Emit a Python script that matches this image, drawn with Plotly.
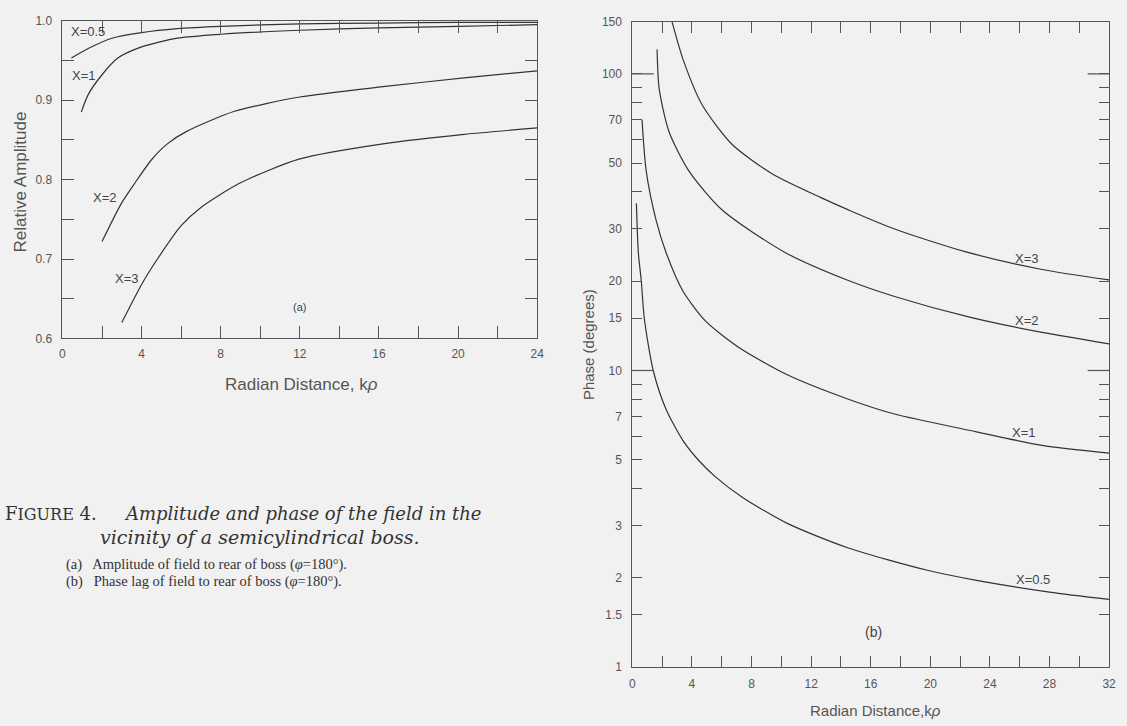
import math
import plotly.graph_objects as go

# ---------------- data ----------------
# (a) Relative amplitude vs radian distance
amp_x_05 = [0.45, 1.3, 2.5, 4, 5.8, 8, 12, 16, 20, 24]
amp_y_05 = [0.953, 0.965, 0.978, 0.985, 0.990, 0.993, 0.996, 0.997, 0.998, 0.998]
amp_x_1 = [0.95, 1.3, 2, 2.8, 4, 5.8, 8, 12, 16, 20, 24]
amp_y_1 = [0.885, 0.907, 0.932, 0.953, 0.967, 0.978, 0.983, 0.988, 0.991, 0.993, 0.995]
amp_x_2 = [2, 3, 3.67, 4.5, 5.3, 6.3, 8.7, 12, 16.2, 20.3, 24]
amp_y_2 = [0.722, 0.771, 0.796, 0.825, 0.845, 0.861, 0.886, 0.904, 0.917, 0.928, 0.937]
amp_x_3 = [3, 4, 4.8, 6, 7, 9, 12, 16.2, 20.3, 24]
amp_y_3 = [0.620, 0.668, 0.700, 0.742, 0.765, 0.796, 0.826, 0.845, 0.857, 0.865]

# (b) Phase (degrees) vs radian distance
ph_x_05 = [0.27, 0.4, 0.6, 0.8, 1.4, 2.26, 3.4, 4.46, 5.6, 7.4, 10.4, 14.5, 19.8, 23.1, 28, 32]
ph_y_05 = [36.6, 25, 20, 15, 10, 7.4, 5.80, 4.97, 4.37, 3.73, 3.05, 2.52, 2.12, 1.96, 1.79, 1.69]
ph_x_1 = [0.65, 0.93, 1.6, 2.26, 3.4, 4.9, 7.1, 10.4, 14.5, 17.6, 23.1, 27.5, 32]
ph_y_1 = [70, 47, 32, 25, 18.5, 14.7, 12, 9.67, 8.0, 7.13, 6.21, 5.59, 5.26]
ph_x_2 = [1.66, 1.8, 2.46, 3.8, 6.05, 10.25, 14.5, 17.6, 22.7, 27.5, 32]
ph_y_2 = [121, 89, 63.8, 47, 34.7, 25.0, 20.1, 17.76, 15.1, 13.44, 12.3]
ph_x_3 = [2.66, 3.4, 4.7, 6.7, 9.4, 12.7, 14.5, 17.6, 22.4, 27.5, 32]
ph_y_3 = [150, 112, 78.4, 57.8, 46, 38.2, 34.8, 30.0, 25.1, 21.9, 20.2]

# tick labels
amp_xticks = [0, 4, 8, 12, 16, 20, 24]
amp_xminor = [2, 6, 10, 14, 18, 22]
amp_yticks = [0.6, 0.7, 0.8, 0.9, 1.0]
amp_ytext = ["0.6", "0.7", "0.8", "0.9", "1.0"]
amp_yminor = [0.65, 0.75, 0.85, 0.95]
ph_xticks = [0, 4, 8, 12, 16, 20, 24, 28, 32]
ph_xminor = [2, 6, 10, 14, 18, 22, 26, 30]
ph_yticks = [1, 1.5, 2, 3, 5, 7, 10, 15, 20, 30, 50, 70, 100, 150]
ph_ytext = ["1", "1.5", "2", "3", "5", "7", "10", "15", "20", "30", "50", "70", "100", "150"]
ph_yminor = [4, 6, 8, 9, 40, 60, 80, 90]
ph_long = [10, 100]

# curve labels (x, y in data units)
amp_labels = [("X=0.5", 1.3, 0.986), ("X=1", 1.1, 0.931), ("X=2", 2.15, 0.778), ("X=3", 3.25, 0.675)]
ph_labels = [("X=3", 26.5, 23.9), ("X=2", 26.5, 14.7), ("X=1", 26.3, 6.17), ("X=0.5", 26.9, 1.97)]

W, H = 1127, 726
INK = "#333333"
AX = "#555555"
BG = "#f1f1f1"
FONT = "Liberation Sans"
SERIF = "DejaVu Serif"

fig = go.Figure()

line = dict(color=INK, width=1.2, shape="spline", smoothing=0.7)
for xs, ys in [(amp_x_05, amp_y_05), (amp_x_1, amp_y_1), (amp_x_2, amp_y_2), (amp_x_3, amp_y_3)]:
    fig.add_trace(go.Scatter(x=xs, y=ys, mode="lines", line=line, xaxis="x", yaxis="y",
                             showlegend=False, hoverinfo="skip"))
for xs, ys in [(ph_x_05, ph_y_05), (ph_x_1, ph_y_1), (ph_x_2, ph_y_2), (ph_x_3, ph_y_3)]:
    fig.add_trace(go.Scatter(x=xs, y=ys, mode="lines", line=line, xaxis="x2", yaxis="y2",
                             showlegend=False, hoverinfo="skip"))


def px(x):
    return x / W


def py(y):
    return 1 - y / H


tickfont = dict(family=FONT, size=12, color="#555")
common = dict(showline=True, linecolor=AX, linewidth=1, mirror="ticks", ticks="inside",
              tickcolor=AX, tickwidth=1, showgrid=False, zeroline=False, tickfont=tickfont)

fig.update_layout(
    width=W, height=H, margin=dict(l=0, r=0, t=0, b=0),
    paper_bgcolor=BG, plot_bgcolor=BG, showlegend=False,
    xaxis=dict(domain=[px(60), px(539)], range=[0, 24], tickmode="array", tickvals=amp_xticks,
               ticklen=12, ticklabelstandoff=4,
               minor=dict(tickmode="array", tickvals=amp_xminor, ticks="inside", ticklen=12,
                          tickcolor=AX, showgrid=False),
               anchor="y", **common),
    yaxis=dict(domain=[py(338), py(14)], range=[0.6, 1.0], tickmode="array", tickvals=amp_yticks,
               ticktext=amp_ytext, ticklen=12, ticklabelstandoff=7,
               minor=dict(tickmode="array", tickvals=amp_yminor, ticks="inside", ticklen=12,
                          tickcolor=AX, showgrid=False),
               anchor="x", **common),
    xaxis2=dict(domain=[px(635), px(1116)], range=[0, 32], tickmode="array", tickvals=ph_xticks,
                ticklen=11, ticklabelstandoff=6,
                minor=dict(tickmode="array", tickvals=ph_xminor, ticks="inside", ticklen=11,
                           tickcolor=AX, showgrid=False),
                anchor="y2", **common),
    yaxis2=dict(domain=[py(673), py(15)], type="log", range=[0, math.log10(150)], tickmode="array",
                tickvals=ph_yticks, ticktext=ph_ytext, ticklen=10, ticklabelstandoff=7,
                minor=dict(tickmode="array", tickvals=ph_yminor, ticks="inside", ticklen=10,
                           tickcolor=AX, showgrid=False),
                anchor="x2", **common),
)

# long ticks at decades on the phase axis (both sides)
for v in ph_long:
    fig.add_shape(type="line", xref="x2 domain", yref="y2", x0=0, x1=0.045, y0=v, y1=v,
                  line=dict(color=AX, width=1.2))
    fig.add_shape(type="line", xref="x2 domain", yref="y2", x0=1, x1=0.955, y0=v, y1=v,
                  line=dict(color=AX, width=1.2))

lab_font = dict(family=FONT, size=13, color="#444")
for t, x, y in amp_labels:
    fig.add_annotation(text=t, x=x, y=y, xref="x", yref="y", showarrow=False, font=lab_font,
                       xanchor="center", yanchor="middle")
for t, x, y in ph_labels:
    fig.add_annotation(text=t, x=x, y=math.log10(y), xref="x2", yref="y2", showarrow=False,
                       font=dict(family=FONT, size=13, color="#444"), xanchor="center", yanchor="middle")

fig.add_annotation(text="(a)", x=12, y=0.64, xref="x", yref="y", showarrow=False,
                   font=dict(family=FONT, size=11, color="#444"), xanchor="center", yanchor="middle")
fig.add_annotation(text="(b)", x=16.2, y=math.log10(1.315), xref="x2", yref="y2", showarrow=False,
                   font=dict(family=FONT, size=14, color="#444"), xanchor="center", yanchor="middle")

fig.add_annotation(text="Relative Amplitude", x=px(18), y=py(178), xref="paper", yref="paper",
                   textangle=-90, showarrow=False, font=dict(family=FONT, size=17, color="#555"),
                   xanchor="center", yanchor="middle")
fig.add_annotation(text="Radian Distance, k<i>ρ</i>", x=px(301), y=py(385), xref="paper", yref="paper",
                   showarrow=False, font=dict(family=FONT, size=17, color="#555"),
                   xanchor="center", yanchor="middle")
fig.add_annotation(text="Phase (degrees)", x=px(591), y=py(344), xref="paper", yref="paper",
                   textangle=-90, showarrow=False, font=dict(family=FONT, size=15, color="#555"),
                   xanchor="center", yanchor="middle")
fig.add_annotation(text="Radian Distance,k<i>ρ</i>", x=px(880), y=py(717), xref="paper", yref="paper",
                   showarrow=False, font=dict(family=FONT, size=15, color="#555"),
                   xanchor="center", yanchor="middle")

# caption
fig.add_annotation(text="F<span style='font-size:16px'>IGURE</span> 4.",
                   x=px(0), y=py(516), xref="paper", yref="paper", xanchor="left", yanchor="middle",
                   showarrow=False, font=dict(family=SERIF, size=18, color="#333"))
fig.add_annotation(text="<i>Amplitude and phase of the field in the</i>",
                   x=px(120), y=py(516), xref="paper", yref="paper", xanchor="left", yanchor="middle",
                   showarrow=False, font=dict(family=SERIF, size=18, color="#333"))
fig.add_annotation(text="<i>vicinity of a semicylindrical boss.</i>",
                   x=px(96), y=py(540), xref="paper", yref="paper", xanchor="left", yanchor="middle",
                   showarrow=False, font=dict(family=SERIF, size=19, color="#333"))
small = dict(family="Liberation Serif", size=14.5, color="#333")
fig.add_annotation(text="(a)   Amplitude of field to rear of boss (<i>φ</i>=180°).",
                   x=px(62), y=py(568), xref="paper", yref="paper", xanchor="left", yanchor="middle",
                   showarrow=False, font=small)
fig.add_annotation(text="(b)   Phase lag of field to rear of boss (<i>φ</i>=180°).",
                   x=px(62), y=py(586), xref="paper", yref="paper", xanchor="left", yanchor="middle",
                   showarrow=False, font=small)

fig.write_html("out.html", config={"displayModeBar": False},
               post_script="document.body.style.margin='0';")
